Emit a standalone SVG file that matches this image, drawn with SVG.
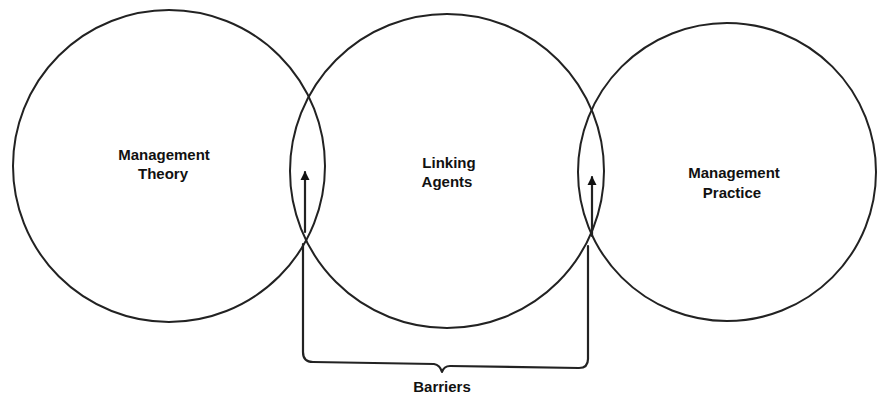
<svg xmlns="http://www.w3.org/2000/svg" width="879" height="397" viewBox="0 0 879 397">
<defs>
<style>
.c{fill:none;stroke:#222;stroke-width:2}
.l{fill:none;stroke:#222;stroke-width:2.2;stroke-linejoin:round;stroke-linecap:round}
.t{font-family:"Liberation Sans",Arial,sans-serif;font-weight:bold;font-size:15px;fill:#111;text-anchor:middle}
</style>
<marker id="ah" viewBox="0 0 10 10" refX="9" refY="5" markerWidth="14" markerHeight="9" markerUnits="userSpaceOnUse" orient="auto" overflow="visible">
<path d="M0,0 L10,5 L0,10 Z" fill="#111"/>
</marker>
</defs>
<rect width="879" height="397" fill="#fff"/>
<g id="theory">
<circle class="c" cx="169" cy="166" r="156"/>
<text class="t" x="164" y="160">Management</text>
<text class="t" x="163" y="179">Theory</text>
</g>
<g id="linking">
<circle class="c" cx="447" cy="171" r="157"/>
<text class="t" x="449" y="168">Linking</text>
<text class="t" x="447" y="187">Agents</text>
</g>
<g id="practice">
<circle class="c" cx="727" cy="172" r="149"/>
<text class="t" x="734" y="178">Management</text>
<text class="t" x="732" y="198">Practice</text>
</g>
<g id="connectors">
<line class="l" x1="305" y1="232" x2="305" y2="172" marker-end="url(#ah)"/>
<line class="l" x1="592" y1="236" x2="592" y2="177" marker-end="url(#ah)"/>
<path class="l" d="M303,244 L303,352 Q303,362 313,362 L434,364 Q440,365 442,372 Q444,366 450,366 L579,368 Q588,368 588,359 L588,246"/>
</g>
<g id="barriers">
<text class="t" x="442" y="392">Barriers</text>
</g>
</svg>
